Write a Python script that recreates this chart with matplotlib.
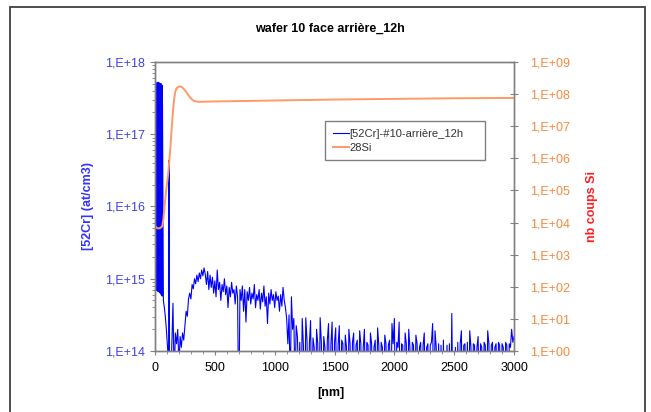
import numpy as np
import matplotlib
matplotlib.use('Agg')
import matplotlib.pyplot as plt
from matplotlib.ticker import FixedLocator, FuncFormatter, MultipleLocator, LogLocator
from matplotlib.patches import Rectangle

plt.rcParams['font.family'] = ['Liberation Sans', 'DejaVu Sans']

# profil 52Cr (exposants log10 en at/cm3) - zone de surface, pas irregulier
cr_surf_nm = [0, 2, 4, 6, 8, 10, 12, 14, 16, 18, 20, 22, 24, 26, 28, 30, 32, 34, 36, 38,
              40, 42, 44, 46, 48, 50, 52, 54, 56, 58, 60, 62,
              70, 78, 86, 94, 100, 106, 111, 115, 117, 121]
cr_surf_log = [14.84, 17.70, 14.85, 17.72, 14.84, 17.70, 14.85, 17.69, 14.84, 17.71,
               14.83, 17.70, 14.84, 17.72, 14.82, 17.70, 14.83, 17.68, 14.82, 17.71,
               14.81, 17.70, 14.80, 17.69, 14.80, 17.70, 14.78, 17.66, 14.77, 17.68,
               14.76, 17.60,
               14.70, 14.60, 14.48, 14.32, 14.18, 14.02, 13.70, 13.20, 16.64, 13.20]

# profil 52Cr, pas de 10 nm a partir de 130 nm
cr_130_240 = [13.5, 14.05, 14.66, 13.6, 14.25, 14.1, 14.3, 13.8, 14.2, 14.05, 14.25, 14.15]
cr_250_490 = [14.35, 14.55, 14.48, 14.72, 14.8, 14.72, 14.92, 14.86, 15.0, 14.93,
              15.05, 14.96, 15.08, 15.0, 15.12, 15.04, 15.15, 15.06, 14.92, 15.1,
              14.85, 15.05, 14.88, 15.02, 14.8]
cr_500_1090 = [14.97, 14.75, 15.12, 14.85, 14.95, 14.7, 14.92, 14.82, 15.0, 14.78,
               14.9, 14.6, 14.88, 14.75, 14.95, 14.8, 14.85, 14.65, 14.9, 14.75,
               13.0, 14.85, 14.7, 14.9, 14.55, 14.85, 14.4, 14.82, 14.7, 14.88,
               14.65, 14.8, 14.72, 14.92, 14.6, 14.78, 14.7, 14.85, 14.58, 14.8,
               14.68, 14.9, 14.62, 14.75, 14.38, 14.8, 14.65, 14.85, 14.7, 14.78,
               14.6, 14.82, 14.7, 14.76, 14.55, 14.78, 14.62, 14.88, 14.7, 14.6]
cr_1100_1200 = [14.45, 14.1, 14.5, 13.5, 14.75, 14.3, 14.45, 13.5, 14.35, 14.2, 13.5]
cr_1210_3000 = [14.12, 13.0, 14.45, 14.08, 13.0, 14.46, 14.15, 13.0, 14.10, 14.42,
                13.0, 14.18, 14.05, 13.0, 14.30, 14.1, 13.0, 14.46, 14.12, 13.0,
                14.2, 14.05, 13.0, 14.15, 14.38, 13.0, 14.1, 14.40, 13.0, 14.12,
                14.32, 13.0, 14.08, 14.35, 13.0, 14.15, 14.1, 13.0, 14.22, 14.05,
                13.0, 14.3, 14.1, 13.0, 14.12, 14.25, 13.0, 14.08, 14.15, 13.0,
                14.28, 14.1, 13.0, 14.05, 14.3, 13.0, 14.12, 14.08, 13.0, 14.25,
                14.1, 13.0, 14.05, 14.15, 13.0, 14.32, 14.08, 13.0, 14.12, 14.05,
                13.0, 14.22, 14.1, 13.0, 14.08, 14.15, 13.0, 14.38, 14.1, 14.45,
                13.0, 14.12, 14.05, 14.40, 13.0, 14.1, 14.08, 13.0, 14.25, 14.1,
                13.0, 14.3, 14.05, 13.0, 14.12, 14.08, 13.0, 14.22, 14.1, 13.0,
                14.05, 14.12, 13.0, 14.08, 14.25, 13.0, 14.05, 14.1, 13.0, 14.08,
                14.12, 14.38, 13.0, 14.28, 14.05, 13.0, 14.1, 13.0, 14.08, 13.0,
                14.15, 13.0, 13.0, 14.08, 13.0, 14.1, 13.0, 14.52, 13.0, 13.0,
                14.05, 13.0, 14.12, 13.0, 14.1, 14.28, 13.0, 14.08, 14.1, 13.0,
                14.12, 13.0, 14.28, 14.05, 13.0, 14.1, 14.08, 13.0, 14.05, 14.2,
                13.0, 14.1, 14.05, 13.0, 14.12, 14.08, 13.0, 14.28, 14.1, 13.0,
                14.08, 14.12, 13.0, 14.05, 14.1, 13.0, 14.12, 14.08, 13.0, 14.1,
                14.05, 13.0, 14.12, 14.08, 13.0, 14.1, 14.05, 14.3, 14.12, 14.2]

# profil 28Si (exposants log10 en coups)
si_nm = [0, 10, 20, 40, 60, 70, 80, 90, 100, 110, 120, 130, 140, 150, 160, 170, 180,
         195, 210, 230, 250, 270, 290, 310, 330, 360, 400, 500, 1000, 1500, 2000, 2500, 3000]
si_log = [3.90, 3.85, 3.82, 3.82, 3.88, 4.10, 4.50, 4.90, 5.20, 5.50, 5.95, 6.40, 6.95,
          7.45, 7.85, 8.08, 8.18, 8.23, 8.24, 8.20, 8.12, 8.01, 7.91, 7.83, 7.78, 7.76,
          7.76, 7.77, 7.80, 7.83, 7.85, 7.87, 7.88]

cr_bulk_log = cr_130_240 + cr_250_490 + cr_500_1090 + cr_1100_1200 + cr_1210_3000
cr_bulk_nm = 130 + 10 * np.arange(len(cr_bulk_log))
cr_nm = np.concatenate([cr_surf_nm, cr_bulk_nm])
cr = 10.0 ** np.concatenate([cr_surf_log, cr_bulk_log])
si = 10.0 ** np.array(si_log)

fig = plt.figure(figsize=(6.51, 4.12), dpi=100)
ax = fig.add_axes([0.2381, 0.1481, 0.5515, 0.7015])
ax2 = ax.twinx()

# cadre exterieur comme dans excel
fig.patches.append(Rectangle((0.0154, -0.05), 0.975, 1.033, transform=fig.transFigure,
                             fill=False, edgecolor='#404040', linewidth=1.3))

l1, = ax.plot(cr_nm, cr, color='#0000ff', linewidth=0.8, label='[52Cr]-#10-arrière_12h')
l2, = ax2.plot(si_nm, si, color='#ff9966', linewidth=1.4, label='28Si')

ax.set_yscale('log')
ax2.set_yscale('log')
ax.set_xlim(0, 3000)
ax.set_ylim(1e14, 1e18)
ax2.set_ylim(1e0, 1e9)

def fmt_e(v, pos):
    return '1,E+%02d' % int(round(np.log10(v)))

ax.yaxis.set_major_locator(FixedLocator([1e14, 1e15, 1e16, 1e17, 1e18]))
ax.yaxis.set_minor_locator(LogLocator(base=10, subs=np.arange(2, 10), numticks=20))
ax.yaxis.set_major_formatter(FuncFormatter(fmt_e))
ax2.yaxis.set_major_locator(FixedLocator([10.0 ** k for k in range(10)]))
ax2.yaxis.set_minor_locator(FixedLocator([]))
ax2.yaxis.set_major_formatter(FuncFormatter(fmt_e))
ax.xaxis.set_major_locator(MultipleLocator(500))
ax.xaxis.set_minor_locator(MultipleLocator(100))

for a in (ax, ax2):
    for s in a.spines.values():
        s.set_color('#808080')
        s.set_linewidth(1.0)

ax.tick_params(axis='y', which='major', direction='out', length=3.5, pad=3.5,
               color='#808080', labelcolor='#4040f0', labelsize=9)
ax.tick_params(axis='y', which='minor', direction='out', length=2, color='#808080')
ax.tick_params(axis='x', which='major', direction='out', length=3, pad=5,
               color='#808080', labelcolor='black', labelsize=9)
ax.tick_params(axis='x', which='minor', direction='out', length=2, color='#808080')
ax2.tick_params(axis='y', which='major', direction='inout', length=6, pad=8.5,
                color='#808080', labelcolor='#f58a3c', labelsize=9)

ax.set_xlabel('[nm]', fontsize=9, fontweight='bold')
ax.xaxis.set_label_coords(0.49, -0.125)
ax.set_ylabel('[52Cr] (at/cm3)', fontsize=9, fontweight='bold', color='#3333ff')
ax.yaxis.set_label_coords(-0.17, 0.5)
ax2.set_ylabel('nb coups Si', fontsize=9, fontweight='bold', color='#ff2020')
ax2.yaxis.set_label_coords(1.2, 0.5)

fig.text(0.507, 0.93, 'wafer 10 face arrière_12h', ha='center', va='center',
         fontsize=9, fontweight='bold')

leg = ax2.legend([l1, l2], [l1.get_label(), l2.get_label()], loc='upper left',
                 bbox_to_anchor=(0.474, 0.657, 0.445, 0.139), mode='expand',
                 borderaxespad=0, fontsize=8, handlelength=1.4, handletextpad=0.1,
                 borderpad=0.7, labelspacing=0.35, fancybox=False, framealpha=1)
leg.get_frame().set_edgecolor('#808080')
leg.get_frame().set_linewidth(1.0)
for t in leg.get_texts():
    t.set_color('#333333')

fig.savefig('out.png', dpi=100)
